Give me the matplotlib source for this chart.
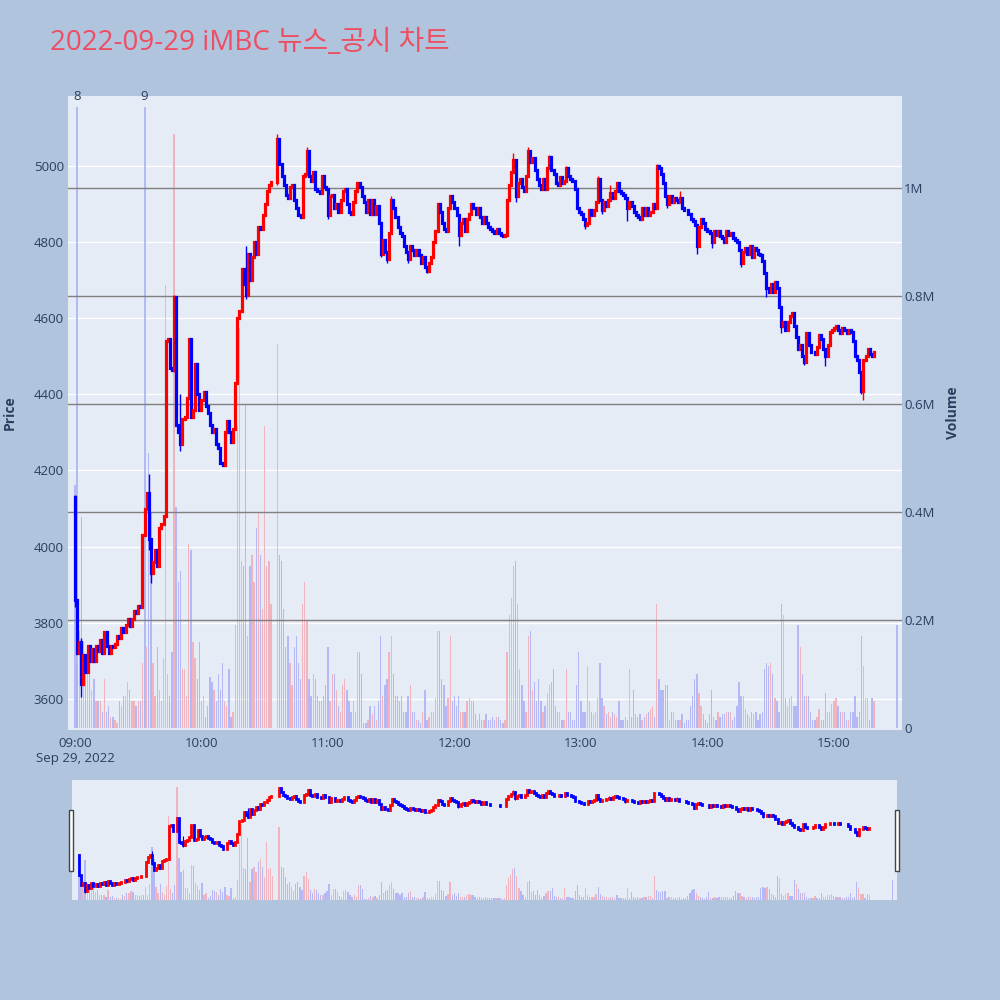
import matplotlib
matplotlib.use('Agg')
import matplotlib.pyplot as plt
import matplotlib.dates as mdates
from matplotlib.patches import Rectangle
import numpy as np
import pandas as pd

plt.rcParams['font.family'] = ['Open Sans', 'Noto Sans CJK KR', 'DejaVu Sans']

title = "2022-09-29 iMBC 뉴스_공시 차트"
day = "2022-09-29"

# 1-minute closes from 09:00 (open of the first candle given separately)
first_open = 4130
closes = [
    3860, 3720, 3750, 3640, 3715, 3670, 3740, 3700, 3730, 3700,
    3740, 3725, 3755, 3720, 3775, 3740, 3720, 3740, 3735, 3745,
    3765, 3760, 3785, 3775, 3795, 3810, 3790, 3810, 3830, 3825,
    3845, 3840, 4030, 4100, 4140, 4020, 3930, 3960, 3990, 3950,
    4050, 4060, 4080, 4540, 4545, 4470, 4465, 4655, 4320, 4300,
    4270, 4335, 4340, 4390, 4545, 4340, 4360, 4480, 4400, 4360,
    4385, 4405, 4370, 4350, 4320, 4300, 4310, 4270, 4260, 4220,
    4215, 4300, 4330, 4300, 4275, 4310, 4430, 4600, 4620, 4730,
    4690, 4660, 4770, 4700, 4760, 4800, 4770, 4840, 4835, 4870,
    4900, 4935, 4950, 4958, 4958, 4958, 5070, 5005, 4975, 4950,
    4925, 4915, 4945, 4950, 4910, 4890, 4870, 4865, 4975, 4980,
    5040, 4975, 4960, 4985, 4940, 4935, 4930, 4975, 4945, 4940,
    4870, 4920, 4925, 4890, 4900, 4880, 4910, 4935, 4940, 4900,
    4880, 4875, 4905, 4935, 4955, 4945, 4920, 4905, 4880, 4910,
    4875, 4910, 4875, 4895, 4850, 4770, 4805, 4775, 4755, 4825,
    4910, 4890, 4865, 4840, 4825, 4815, 4790, 4775, 4755, 4790,
    4780, 4765, 4780, 4765, 4745, 4760, 4735, 4725, 4745, 4760,
    4800, 4830, 4900, 4880, 4850, 4835, 4830, 4890, 4920, 4905,
    4890, 4870, 4820, 4850, 4860, 4830, 4860, 4875, 4900, 4890,
    4875, 4890, 4865, 4850, 4865, 4850, 4840, 4835, 4830, 4825,
    4835, 4825, 4820, 4815, 4820, 4910, 4950, 4985, 5015, 4920,
    4955, 4965, 4945, 4935, 4975, 5040, 5010, 5020, 4990, 4965,
    4950, 4940, 4965, 4940, 4995, 5025, 4990, 4980, 4955, 4950,
    4970, 4955, 4960, 4995, 4975, 4965, 4960, 4940, 4890, 4880,
    4875, 4860, 4845, 4850, 4885, 4870, 4885, 4905, 4965, 4910,
    4885, 4905, 4895, 4910, 4930, 4915, 4935, 4955, 4935, 4930,
    4925, 4915, 4890, 4905, 4895, 4880, 4870, 4865, 4860, 4890,
    4870, 4890, 4870, 4880, 4900, 4890, 5000, 4995, 4980, 4955,
    4920, 4900, 4920, 4905, 4915, 4910, 4905, 4915, 4890, 4885,
    4885, 4875, 4860, 4855, 4845, 4790, 4840, 4860, 4850, 4835,
    4830, 4825, 4800, 4830, 4820, 4830, 4815, 4810, 4800, 4830,
    4820, 4825, 4810, 4805, 4800, 4780, 4745, 4775, 4785, 4770,
    4790, 4760, 4785, 4780, 4770, 4765, 4750, 4720, 4680, 4670,
    4690, 4670, 4695, 4680, 4630, 4580, 4590, 4570, 4590, 4605,
    4615, 4580, 4550, 4520, 4530, 4500, 4485, 4560, 4530, 4510,
    4510, 4505, 4525, 4555, 4545, 4520, 4500, 4530, 4565, 4570,
    4575, 4580, 4570, 4560, 4575, 4570, 4560, 4570, 4565, 4540,
    4500, 4490, 4460, 4410, 4490, 4500, 4520, 4505, 4500, 4510,
]

# volume per minute, thousands of shares
volumes_k = [
    450, 120, 180, 390, 160, 110, 100, 110, 70, 90,
    50, 50, 50, 30, 90, 30, 40, 20, 20, 15,
    10, 50, 40, 60, 60, 85, 70, 50, 50, 40,
    50, 50, 120, 50, 150, 510, 400, 120, 60, 150,
    70, 50, 130, 820, 100, 60, 140, 1100, 410, 270,
    290, 110, 110, 60, 340, 330, 160, 130, 90, 160,
    50, 60, 20, 40, 95, 85, 70, 50, 100, 70,
    120, 50, 40, 110, 20, 30, 190, 560, 740, 310,
    300, 600, 170, 300, 320, 270, 370, 400, 320, 220,
    560, 300, 310, 230, 0, 0, 710, 320, 310, 220,
    150, 170, 120, 80, 150, 170, 120, 90, 230, 270,
    200, 90, 60, 100, 90, 60, 50, 50, 60, 80,
    150, 50, 100, 100, 70, 40, 30, 80, 90, 70,
    50, 30, 50, 30, 140, 140, 100, 10, 10, 15,
    40, 25, 40, 15, 50, 170, 60, 80, 90, 140,
    170, 100, 60, 60, 50, 60, 30, 30, 60, 80,
    30, 30, 15, 15, 10, 30, 70, 15, 20, 30,
    30, 55, 180, 180, 90, 80, 40, 55, 170, 50,
    60, 40, 60, 30, 30, 30, 50, 55, 50, 50,
    25, 15, 25, 15, 15, 25, 15, 15, 20, 15,
    20, 20, 15, 10, 15, 140, 210, 240, 300, 310,
    230, 110, 80, 50, 30, 170, 180, 70, 85, 50,
    90, 50, 30, 40, 65, 80, 85, 110, 40, 30,
    30, 15, 15, 110, 30, 30, 15, 15, 80, 140,
    50, 30, 30, 115, 50, 30, 25, 30, 55, 120,
    55, 40, 25, 30, 20, 30, 25, 20, 50, 15,
    15, 20, 15, 110, 20, 70, 25, 20, 25, 15,
    20, 25, 30, 35, 40, 20, 230, 90, 70, 70,
    80, 80, 15, 30, 30, 15, 15, 15, 25, 10,
    15, 15, 40, 60, 90, 100, 65, 40, 25, 15,
    10, 25, 70, 20, 15, 30, 20, 25, 25, 30,
    30, 30, 15, 20, 40, 85, 60, 60, 35, 25,
    20, 30, 25, 30, 15, 25, 30, 110, 120, 115,
    120, 100, 55, 50, 30, 230, 210, 55, 40, 55,
    60, 40, 40, 190, 150, 100, 60, 60, 60, 30,
    15, 15, 20, 35, 15, 15, 65, 30, 30, 45,
    50, 55, 40, 30, 30, 30, 15, 15, 30, 30,
    60, 20, 30, 170, 115, 55, 55, 15, 55, 50,
]

# visible wicks: minute index -> (high, low)
wicks = {0: (4135, 3840), 3: (3760, 3605), 35: (4190, 3990), 36: (4020, 3905),
         47: (4660, 4460), 50: (4400, 4250), 81: (4790, 4650), 96: (5083, 4950),
         110: (5050, 4975), 120: (4940, 4860), 145: (4850, 4760), 148: (4775, 4745),
         150: (4920, 4825), 158: (4775, 4745), 167: (4735, 4718), 182: (4870, 4790),
         208: (5035, 4985), 209: (5015, 4905), 215: (5050, 4975), 225: (5030, 4995),
         233: (5000, 4960), 242: (4860, 4835), 248: (4975, 4905), 250: (4910, 4875),
         254: (4950, 4910), 262: (4915, 4855), 276: (5005, 4890), 281: (4920, 4890),
         287: (4935, 4905), 295: (4845, 4770), 302: (4825, 4785), 316: (4780, 4735),
         328: (4720, 4655), 335: (4630, 4560), 346: (4500, 4478), 356: (4520, 4475),
         373: (4460, 4400), 374: (4490, 4385)}

# closing auction
auction_time = "15:30"
auction_price = 4480
auction_volume_k = 190

news_times = ["09:01", "09:33"]
news_labels = ["8", "9"]

hour_ticks = ["09:00", "10:00", "11:00", "12:00", "13:00", "14:00", "15:00"]
price_ticks = [3600, 3800, 4000, 4200, 4400, 4600, 4800, 5000]
volume_ticks = [0, 200000, 400000, 600000, 800000, 1000000]
volume_tick_labels = ["0", "0.2M", "0.4M", "0.6M", "0.8M", "1M"]

assert len(closes) == len(volumes_k)

UP = '#FF0000'
DOWN = '#0000FF'
VUP = '#F0B4BE'
VDOWN = '#B4B9F5'
TXT = '#2a3f5f'
PLOTBG = '#E5ECF6'

times = pd.date_range(f"{day} 09:00", periods=len(closes), freq="min")
times = times.append(pd.DatetimeIndex([pd.Timestamp(f"{day} {auction_time}")]))
x = mdates.date2num(times)
close = np.array(closes + [auction_price], dtype=float)
opn = np.concatenate([[first_open], close[:-1]])
opn[-1] = auction_price
high = np.maximum(opn, close)
low = np.minimum(opn, close)
for i, (h, l) in wicks.items():
    high[i] = max(high[i], h)
    low[i] = min(low[i], l)
vol = np.array(volumes_k + [auction_volume_k], dtype=float) * 1000
up = close > opn
cols = [UP if u else DOWN for u in up]
vcols = [VUP if u else VDOWN for u in up]

one_min = 1 / 1440
xlim = (x[0] - 3.3 * one_min, x[0] + 392.3 * one_min)


def draw(axp, axv, body_lw, wick_lw):
    axv.bar(x, vol, width=0.62 * one_min, color=vcols, linewidth=0, antialiased=False, zorder=1)
    axp.vlines(x, low, high, colors=cols, linewidth=wick_lw)
    axp.vlines(x, np.minimum(opn, close), np.maximum(opn, close), colors=cols,
               linewidth=body_lw, capstyle='projecting')


def layer(axp, axv):
    axp.set_zorder(axv.get_zorder() + 1)
    axp.patch.set_visible(False)
    axv.patch.set_visible(True)
    axv.patch.set_facecolor(PLOTBG)
    for a in (axp, axv):
        for s in a.spines.values():
            s.set_visible(False)


fig = plt.figure(figsize=(10, 10), dpi=100, facecolor='#B0C4DE')

# main chart
ax = fig.add_axes([0.068, 0.27, 0.834, 0.634])
axv = ax.twinx()
layer(ax, axv)
ax.set_xlim(*xlim)
ax.set_ylim(3518, 5184)
axv.set_ylim(-3700, 1.17e6)

# white price grid sits under the volume bars
for p in price_ticks:
    axv.plot(xlim, [p, p], transform=ax.transData, color='white', linewidth=1.0, zorder=0.5)
draw(ax, axv, 2.3, 1.0)
# dark volume grid drawn over the bars
for v in volume_ticks[1:]:
    axv.axhline(v, color='#808080', linewidth=1.0, zorder=1.5)

news_x = mdates.date2num(pd.to_datetime([f"{day} {t}" for t in news_times]))
axv.vlines(news_x, 0, 1.15e6, color='#A6B2F4', linewidth=1.2, zorder=1.2)
for nx, lab in zip(news_x, news_labels):
    ax.text(nx, 1.0, lab, transform=ax.get_xaxis_transform(), ha='center', va='center',
            fontsize=9.5, color=TXT, clip_on=False)

tick_x = mdates.date2num(pd.to_datetime([f"{day} {h}" for h in hour_ticks]))
tick_labels = list(hour_ticks)
tick_labels[0] = hour_ticks[0] + "\n" + pd.Timestamp(day).strftime("%b %d, %Y")
ax.set_xticks(tick_x)
ax.set_xticklabels(tick_labels)
ax.set_yticks(price_ticks)
ax.set_yticklabels([str(p) for p in price_ticks])
axv.set_yticks(volume_ticks)
axv.set_yticklabels(volume_tick_labels)

ax.tick_params(axis='x', length=0, pad=5, labelsize=9.5, labelcolor=TXT)
ax.tick_params(axis='y', length=0, pad=3, labelsize=9.5, labelcolor=TXT)
axv.tick_params(axis='y', length=0, pad=1.5, labelsize=9.5, labelcolor=TXT)

# range slider
axs = fig.add_axes([0.072, 0.100, 0.825, 0.120])
axsv = axs.twinx()
layer(axs, axsv)
draw(axs, axsv, 2.0, 0.8)
axs.set_xlim(*xlim)
axs.set_ylim(3508, 5177)
axsv.set_ylim(-3700, 1.17e6)
for a in (axs, axsv):
    a.set_xticks([])
    a.set_yticks([])

for hx in (0.069, 0.895):
    fig.add_artist(Rectangle((hx, 0.129), 0.004, 0.061, transform=fig.transFigure,
                             facecolor='white', edgecolor='#444444', linewidth=1))

fig.text(0.05, 0.950, title, fontsize=20, color='#EE4E62', ha='left', va='baseline')
fig.text(0.0095, 0.587, "Price", rotation=90, ha='center', va='center',
         fontsize=10, fontweight='bold', color=TXT)
fig.text(0.953, 0.587, "Volume", rotation=90, ha='center', va='center',
         fontsize=10, fontweight='bold', color=TXT)

fig.savefig('out.png', dpi=100, facecolor=fig.get_facecolor())
